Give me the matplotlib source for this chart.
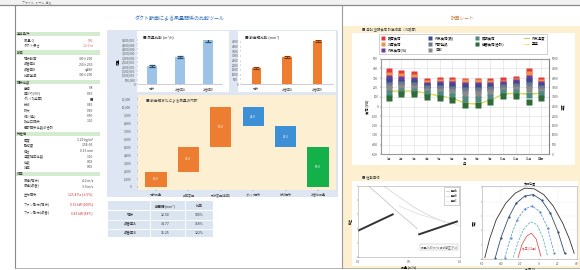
import matplotlib
matplotlib.use('Agg')
import matplotlib.pyplot as plt
from matplotlib.patches import Rectangle
from matplotlib.lines import Line2D

plt.rcParams['font.family'] = ['Noto Sans CJK JP', 'DejaVu Sans']

# ---------------- data ----------------
menu_text = "ファイル  ホーム  挿入"
left_title = "ダクト断面による風量関係の比較ツール"
right_title = "計算シート"

list_labels = ["基本条件", "風量 Q", "ダクト長さ",
               "断面", "現状断面", "改善案A", "改善案B", "比較基準",
               "損失係数", "摩擦", "曲がり(90°)", "ダンパ(全開)", "分岐", "拡大", "縮小(急)", "吹出口損失", "局部損失係数の合計",
               "物性値", "密度", "動粘度", "粗さ", "温度補正係数", "係数", "効率",
               "結果", "風速(現状)", "風速(改善)", "圧力損失", "ファン動力(現状)", "ファン動力(改善)"]
list_values = ["", "500", "12.0 m",
               "", "300×200", "250×250", "φ280", "300×200",
               "", "0.8", "0.35", "■", "0.45", "0.30", "0.50", "1.00", "",
               "", "1.20 kg/m³", "1.5E-05", "0.15 mm", "1.00", "0.02", "0.65",
               "", "4.2 m/s", "3.9 m/s", "125.4 Pa (±5%)", "0.52 kW (100%)", "0.43 kW (83%)"]
list_kinds = ["h", "p", "p",
              "h", "r", "r", "r", "r",
              "h", "r", "r", "r", "r", "r", "r", "r", "r",
              "h", "r", "r", "r", "r", "r", "r",
              "h", "r", "r", "x", "x", "x"]

cases = ["現状", "改善案A", "改善案B"]
flow_vals = [2000, 3100, 4950]
flow_err = [120, 120, 150]
area_vals = [1700, 2900, 4550]
area_err = [80, 90, 100]

wf_labels = ["現状風量", "断面変更", "形状変更(曲率)", "ダンパ損失", "分岐損失", "改善後風量"]
wf_steps = [19, 31, 50, -24, -26]
wf_total = 50

table_header = ["", "断面積(mm²)", "比率"]
table_rows = [["現状", "12.50", "100%"],
              ["改善案A", "14.77", "118%"],
              ["改善案B", "15.25", "122%"]]

months = ["1月", "2月", "3月", "4月", "5月", "6月", "7月", "8月", "9月", "10月", "11月", "12月", "年間"]
s_names = ["暖房負荷", "冷房負荷", "外気負荷(冷)", "外気負荷(暖)", "内部発熱", "日射", "照明負荷", "機器負荷(合計)"]
s_red    = [870, 850, 840, 765, 775, 775, 765, 765, 765, 775, 785, 870, 775]
s_orange = [835, 818, 808, 748, 760, 762, 755, 755, 752, 752, 765, 840, 758]
s_purple = [800, 790, 780, 730, 740, 735, 725, 725, 728, 735, 755, 800, 735]
s_navy   = [765, 762, 755, 712, 718, 712, 700, 700, 705, 718, 735, 765, 715]
s_slate  = [730, 735, 728, 692, 695, 688, 672, 672, 680, 700, 712, 728, 695]
s_gray   = [690, 700, 695, 668, 665, 655, 635, 635, 650, 675, 685, 680, 668]
s_teal   = [640, 665, 662, 640, 628, 612, 580, 578, 605, 648, 652, 625, 632]
s_green  = [590, 630, 630, 605, 585, 565, 515, 512, 548, 608, 608, 548, 588]
line_names = ["外気温度", "室温"]
line_a = [663, 663, 663, 642, 611, 589, 537, 526, 568, 632, 642, 632, 642]
line_b = [655, 655, 656, 636, 606, 584, 532, 521, 562, 626, 636, 625, 636]

perf_names = ["系統A", "系統B", "系統C"]
sys_a_x = [0, 34]
sys_a_y = [37, 60]
sys_b_x = [60, 97]
sys_b_y = [32, 50]
fan1_x = [10, 20, 30, 40, 50, 58]
fan1_y = [100, 88, 75, 62, 50, 40]
fan2_x = [25, 35, 45, 55, 65, 75, 85]
fan2_y = [100, 90, 80, 70, 62, 55, 49]
fan3_x = [40, 50, 60, 70, 80, 90, 100]
fan3_y = [72, 66, 60, 56, 52, 48, 44]

arch1_x = [3, 8, 15, 25, 35, 45, 55, 65, 75, 85, 92, 97]
arch1_y = [2, 28, 55, 78, 92, 99, 98, 90, 74, 50, 28, 8]
arch2_x = [14, 20, 28, 36, 45, 54, 63, 72, 80, 87]
arch2_y = [2, 30, 58, 78, 88, 90, 82, 64, 38, 8]
arch3_x = [24, 30, 37, 45, 53, 61, 69, 76]
arch3_y = [2, 30, 55, 70, 74, 66, 44, 8]
arch4_x = [33, 38, 44, 51, 58, 64, 69]
arch4_y = [2, 24, 42, 52, 48, 30, 4]
arch5_x = [38, 42, 47, 52, 57, 62]
arch5_y = [2, 20, 32, 36, 28, 4]

# ---------------- helpers ----------------
W, H = 580, 270
fig = plt.figure(figsize=(5.8, 2.7), dpi=100)


def box(x0, y0, x1, y1):
    return [x0 / W, 1 - y1 / H, (x1 - x0) / W, (y1 - y0) / H]


def rect(x0, y0, x1, y1, fc, ec='none', lw=0.5, z=-5):
    fig.add_artist(Rectangle((x0 / W, 1 - y1 / H), (x1 - x0) / W, (y1 - y0) / H,
                             transform=fig.transFigure, facecolor=fc, edgecolor=ec,
                             linewidth=lw, zorder=z))


def hline(x0, x1, y, color='#999', lw=0.6):
    fig.add_artist(Line2D([x0 / W, x1 / W], [1 - y / H, 1 - y / H], transform=fig.transFigure,
                          color=color, lw=lw, zorder=-1))


def vline(x, y0, y1, color='#999', lw=0.6):
    fig.add_artist(Line2D([x / W, x / W], [1 - y0 / H, 1 - y1 / H], transform=fig.transFigure,
                          color=color, lw=lw, zorder=-1))


def txt(x, y, s, size=2.6, color='#333333', ha='left', va='center', **kw):
    fig.text(x / W, 1 - y / H, s, fontsize=size, color=color, ha=ha, va=va, **kw)


def small_axes(ax, size=2.4):
    ax.tick_params(labelsize=size, length=1, width=0.3, pad=1, colors='#555555')
    for s in ax.spines.values():
        s.set_linewidth(0.4)
        s.set_color('#aaaaaa')


# ---------------- frame ----------------
rect(0, 0, 580, 5, '#f2f2f2')
txt(22, 2.5, menu_text, size=2.2, color='#666')
hline(0, 580, 5, '#8a8a8a', 0.9)
vline(15, 5, 268, '#8a8a8a', 0.8)
hline(15, 580, 268, '#aaaaaa', 0.6)
vline(342, 5, 268, '#9a9a9a', 0.8)

# ---------------- left list ----------------
txt(180, 19, left_title, size=3.6, color='#2e6db4', ha='center')
y = 33
first_x = True
for lab, val, kind in zip(list_labels, list_values, list_kinds):
    if kind == 'h':
        y += 1
        rect(15, y - 2, 100, y + 2, '#d5ebcf')
        txt(17, y, lab, size=2.4, color='#333')
        y += 6.5
    else:
        if kind == 'x' and first_x:
            y += 3
            first_x = False
        col = {'x': '#d23030', 'p': '#d86a6a'}.get(kind, '#444')
        txt(24, y, lab, size=2.4, color='#444')
        txt(93, y, val, size=2.4, color=col, ha='right')
        y += 9.5 if kind == 'x' else 5.5

# ---------------- blue panel ----------------
rect(107, 30, 338, 197, '#dde6f2')
rect(137, 31, 229, 92, 'white')
rect(238, 31, 336, 92, 'white')

ax1 = fig.add_axes(box(138, 40, 222, 84))
ax1.bar(range(3), flow_vals, width=0.35, color='#9dc3e6', yerr=flow_err,
        error_kw=dict(ecolor='#2f4f6f', lw=0.8, capsize=2.2, capthick=0.9))
ax1.set_xlim(-0.5, 2.5)
ax1.set_ylim(0, 5000)
ax1.set_xticks(range(3), cases)
ax1.set_yticks(range(0, 5001, 500), [f"{v*1000:,}" for v in range(0, 5001, 500)])
ax1.set_ylabel("風量", fontsize=2.4, labelpad=1)
small_axes(ax1, 2.2)
for s in ['top', 'right', 'left']:
    ax1.spines[s].set_visible(False)
txt(143, 37, "■ 風量比較 (m³/h)", size=2.6)

ax2 = fig.add_axes(box(241, 40, 333, 84))
ax2.bar(range(3), area_vals, width=0.3, color='#ed7d31', yerr=area_err,
        error_kw=dict(ecolor='#7a3a10', lw=0.6, capsize=2, capthick=0.8))
ax2.set_xlim(-0.5, 2.5)
ax2.set_ylim(0, 4700)
ax2.set_xticks(range(3), cases)
ax2.set_yticks(range(0, 4701, 500))
small_axes(ax2, 2.2)
for s in ['top', 'right', 'left']:
    ax2.spines[s].set_visible(False)
txt(245, 37, "■ 断面積比較 (mm²)", size=2.6)

# waterfall
ax3 = fig.add_axes(box(138, 95, 336, 190))
ax3.set_facecolor('#fdf0d2')
cum = 0
bottoms, heights, colors = [], [], []
for st in wf_steps:
    if st >= 0:
        bottoms.append(cum)
        colors.append('#ed7d31')
    else:
        bottoms.append(cum + st)
        colors.append('#3d8fd6')
    heights.append(abs(st))
    cum += st
bottoms.append(0)
heights.append(wf_total)
colors.append('#14b04a')
ax3.bar(range(6), heights, bottom=bottoms, width=0.66, color=colors)
vals_txt = [f"{abs(v):.1f}" for v in wf_steps] + [f"{wf_total:.1f}"]
for i, (b, h) in enumerate(zip(bottoms, heights)):
    ax3.text(i, b + h / 2, vals_txt[i], fontsize=2.2, color='white', ha='center', va='center')
ax3.set_xlim(-0.55, 5.55)
ax3.set_ylim(-4, 115)
ax3.set_xticks(range(6), wf_labels)
ax3.set_yticks(range(0, 111, 10), [f"{v*100:,}" for v in range(0, 111, 10)])
small_axes(ax3, 2.2)
for s in ax3.spines.values():
    s.set_visible(False)
ax3.tick_params(axis='y', pad=4)
ax3.text(0.04, 0.95, "■ 断面積変化による風量の内訳", transform=ax3.transAxes, fontsize=2.6,
         color='#444', va='center')

# table
rect(108, 201, 213, 237, '#dbe5f1')
col_x = [130, 165, 199]
row_y = [206, 215, 224, 233]
for j, h in enumerate(table_header):
    txt(col_x[j], row_y[0], h, size=2.5, ha='center', color='#333')
hline(108, 213, 210, 'white', 0.8)
for i, row in enumerate(table_rows):
    for j, v in enumerate(row):
        txt(col_x[j], row_y[i + 1], v, size=2.5, ha='center', color='#333')
    hline(108, 213, row_y[i + 1] + 4.5, 'white', 0.6)
vline(150, 201, 237, 'white', 0.6)
vline(185, 201, 237, 'white', 0.6)

# ---------------- right panel ----------------
txt(463, 18, right_title, size=3.4, color='#c0793a', ha='center')
rect(343, 26, 580, 268, '#fcf0d0')
rect(352, 33, 575, 165, 'white')
rect(352, 181, 578, 266, 'white')
txt(362, 29.5, "■ 月別 空調負荷 計算結果（冷暖房）", size=2.4, color='#444')
txt(362, 177, "■ 性能曲線", size=2.4, color='#444')

ax4 = fig.add_axes(box(381, 59, 549, 154))
series = [s_red, s_orange, s_purple, s_navy, s_slate, s_gray, s_teal, s_green]
s_colors = ['#e23a3a', '#f0924a', '#6a3aa8', '#3a4a8a', '#6a7890', '#8a8a8a', '#4e8a80', '#2f6a38']
xs = list(range(13))
ax4.plot(xs, line_a, color='#b8d43a', lw=0.7, label=line_names[0], zorder=1)
ax4.plot(xs, line_b, color='#f2e05a', lw=0.6, label=line_names[1], zorder=1)
for vals, c, n in zip(series, s_colors, s_names):
    ax4.plot(xs, vals, 's', ms=4.8, color=c, mec='none', label=n, zorder=3)
ax4.set_xlim(-0.6, 12.6)
ax4.set_ylim(0, 1000)
ax4.set_xticks(xs, months)
ax4.set_yticks(range(0, 1001, 100), [f"{v-500}" for v in range(0, 1001, 100)])
ax4.grid(True, color='#dddddd', lw=0.4)
ax4.set_ylabel("負荷 (kW)", fontsize=2.4, labelpad=2)
ax4.set_xlabel("月", fontsize=2.4, labelpad=1)
small_axes(ax4, 2.2)
for s in ax4.spines.values():
    s.set_color('#888888')
    s.set_linewidth(0.8)
ax4r = ax4.twinx()
ax4r.set_ylim(0, 50)
ax4r.set_yticks(range(0, 51, 5), [f"{v*100}" for v in range(0, 51, 5)])
ax4r.set_ylabel("温度", fontsize=2.4, labelpad=2)
small_axes(ax4r, 2.2)
ax4r.spines['right'].set_visible(False)
h, l = ax4.get_legend_handles_labels()
order = list(range(2, 10)) + [0, 1]
leg = fig.legend([h[i] for i in order], [l[i] for i in order], loc='center',
                 bbox_to_anchor=(463 / W, 1 - 44 / H), ncol=4, fontsize=2.4,
                 frameon=True, fancybox=False, edgecolor='#999999',
                 handlelength=1.5, columnspacing=6, markerscale=0.6,
                 borderpad=0.5, labelspacing=0.6)
leg.get_frame().set_linewidth(0.4)

# performance curves
ax5 = fig.add_axes(box(358, 186, 460, 257))
ax5.plot(fan1_x, fan1_y, color='#c8c8c8', lw=0.6, label=perf_names[0])
ax5.plot(fan2_x, fan2_y, color='#d8d8d8', lw=0.6, label=perf_names[1])
ax5.plot(fan3_x, fan3_y, color='#e0e0e0', lw=0.6, label=perf_names[2])
ax5.plot(sys_a_x, sys_a_y, color='#333333', lw=1.4)
ax5.plot(sys_b_x, sys_b_y, color='#333333', lw=1.4)
ax5.set_xlim(0, 100)
ax5.set_ylim(0, 100)
ax5.set_xticks([0, 50, 100], ["0.0", "0.5", "1.0"])
ax5.set_yticks(range(0, 101, 20))
ax5.set_yticklabels([])
ax5.set_xlabel("風量 (m³/s)", fontsize=2.2, labelpad=1)
ax5.set_ylabel("静圧", fontsize=2.2, labelpad=2)
small_axes(ax5, 2.2)
l5 = ax5.legend(loc='upper right', fontsize=1.8, frameon=True, fancybox=False,
                edgecolor='#999999', handlelength=1.2, borderpad=0.6)
l5.get_frame().set_linewidth(0.4)
ax5.text(97, 14, "風量 0.40 m³/s 時の静圧 (Pa)", fontsize=2.0, ha='right', va='center',
         color='#555', bbox=dict(boxstyle='square,pad=0.3', fc='white', ec='#aaaaaa', lw=0.3))

ax6 = fig.add_axes(box(482, 186, 577, 259))
ax6.plot(arch1_x, arch1_y, color='#333333', lw=0.6)
ax6.plot(arch2_x, arch2_y, color='#34506e', lw=0.6, marker='.', ms=1.2)
ax6.plot(arch3_x, arch3_y, color='#4a8ad0', lw=0.5, ls='--', marker='.', ms=1.2)
ax6.plot(arch4_x, arch4_y, color='#4ab0a8', lw=0.5, ls='--')
ax6.plot(arch5_x, arch5_y, color='#e05a5a', lw=0.6)
ax6.set_xlim(0, 100)
ax6.set_ylim(0, 102)
ax6.set_xticks(range(0, 101, 20), ["-60", "-40", "-20", "0", "20", "40"])
ax6.set_yticks(range(0, 101, 20))
ax6.set_yticklabels([])
ax6.set_xlabel("角度 (°)", fontsize=2.2, labelpad=1)
ax6.set_ylabel("高度", fontsize=2.2, labelpad=2)
ax6.set_title("太陽位置", fontsize=2.2, pad=1)
ax6.grid(True, color='#eeeeee', lw=0.3)
ax6.text(50, 14, "冬至 (12月)", fontsize=2.0, ha='center', color='#c04040')
small_axes(ax6, 2.2)

fig.savefig('out.png', dpi=100, facecolor='white')
